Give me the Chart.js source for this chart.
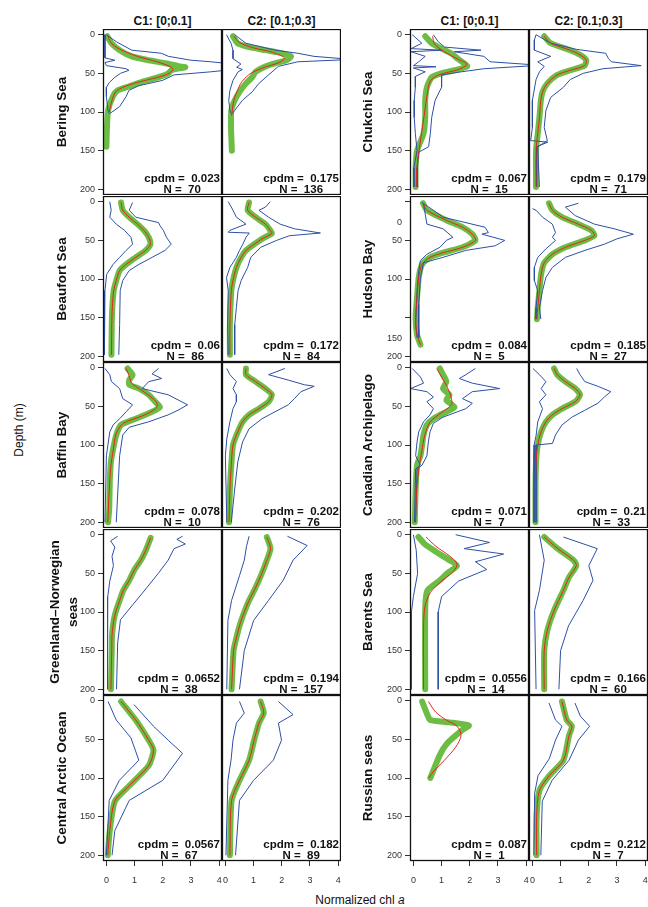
<!DOCTYPE html>
<html>
<head>
<meta charset="utf-8">
<script src="https://cdn.jsdelivr.net/npm/chart.js@4.4.1/dist/chart.umd.min.js"></script>
<style>
  body { margin: 0; background: #fff; width: 648px; height: 907px; position: relative; overflow: hidden;
         font-family: 'Liberation Sans', Arial, Helvetica, sans-serif; color: #111; }
  canvas { position: absolute; }
  .lbl { position: absolute; white-space: nowrap; transform: translate(-50%, -50%); }
  .rot { transform: translate(-50%, -50%) rotate(-90deg); text-align: center; }
  .head { font-weight: bold; font-size: 12px; }
  .region { font-weight: bold; font-size: 13.5px; line-height: 18px; }
  .axtitle { font-size: 12px; }
</style>
</head>
<body>
<script>
// Labels
const regions = ['Bering Sea', 'Beaufort Sea', 'Baffin Bay', 'Greenland–Norwegian<br>seas', 'Central Arctic Ocean',
                 'Chukchi Sea', 'Hudson Bay', 'Canadian Archipelago', 'Barents Sea', 'Russian seas'];
const colTitles = ['C1: [0;0.1]', 'C2: [0.1;0.3]'];
const cpdmC1 = ['0.023', '0.06', '0.078', '0.0652', '0.0567', '0.067', '0.084', '0.071', '0.0556', '0.087'];
const cpdmC2 = ['0.175', '0.172', '0.202', '0.194', '0.182', '0.179', '0.185', '0.21', '0.166', '0.212'];
const nC1 = [70, 86, 10, 38, 67, 15, 5, 7, 14, 1];
const nC2 = [136, 84, 76, 157, 89, 71, 27, 33, 60, 7];
const xTicks = [0, 1, 2, 3, 4];
const yTicks = [0, 50, 100, 150, 200];
// odd depth axis of the Hudson Bay panel
const hudsonTickLabels = ['', '50', '100', '', '200'];
const hudsonExtraLabels = [[27, '0'], [177, '150']];

// Profiles as [normalized chl a, depth]
// Lo/Hi = blue envelope, Obs = green circles, Fit = red curve
const beringC1Lo = [[-0.05,0],[-0.05,30],[0.3,33],[-0.05,36],[0,40],[0.7,44],[0.8,46],[0.5,50],[0.3,55],[0.1,62],[0,68],[0,80],[0.06,98],[0.1,102]];
const beringC1Hi = [[0,0],[0.35,9],[0.9,20],[1.95,24],[2.2,28],[3,33],[3.7,35],[4.5,38],[4.5,45],[3.7,48],[2.4,52],[2,59],[1.15,66],[0.8,72],[0.7,80],[0.47,93],[0.12,102]];
const beringC1Obs = [[0.03,2],[0.18,11],[0.47,20],[0.9,28],[1.5,33],[2.1,37],[2.6,41],[2.8,42],[2.3,46],[2.2,50],[1.85,55],[1.27,61],[0.8,67],[0.4,72],[0.23,80],[0.06,98],[0.02,120],[0,145]];
const beringC1Fit = [[0.05,2],[0.2,12],[0.55,20],[1.1,28],[1.8,35],[2.3,42],[2.35,46],[2.1,52],[1.5,58],[0.8,65],[0.35,73],[0.2,85],[0.1,100]];

const beringC2Lo = [[0.04,0],[0.2,11],[0.27,20],[0.27,31],[0.55,38],[0.4,42],[0.6,45],[0.45,48],[0.27,59],[0.16,72],[0.12,85],[0.16,98],[0.2,102]];
const beringC2Hi = [[0.33,0],[0.73,11],[1.76,20],[2.57,24],[3.14,28],[4.5,32],[2.57,35],[1.88,41],[1.53,52],[1.19,63],[0.95,74],[0.6,85],[0.33,98],[0.25,102]];
const beringC2Obs = [[0.27,2],[0.43,11],[0.73,15],[1.42,20],[2,24],[2.33,28],[2.16,33],[1.76,37],[1.42,41],[1.07,48],[0.95,55],[0.73,63],[0.5,74],[0.33,85],[0.21,98],[0.2,120],[0.23,150]];
const beringC2Fit = [[0.3,2],[0.5,10],[1,17],[1.6,22],[2.1,30],[1.9,36],[1.4,42],[0.9,50],[0.6,60],[0.45,70],[0.3,85],[0.22,105]];

const beaufortC1Lo = [[0.12,0],[0.17,11],[0.12,20],[0.35,29],[0.64,37],[0.87,46],[0.93,55],[0.7,63],[0.47,72],[0.24,81],[0.01,94],[-0.05,115],[-0.07,198]];
const beaufortC1Hi = [[0.93,1],[0.81,11],[1.04,20],[1.85,27],[1.9,31],[2.02,37],[2.13,46],[2.3,55],[2.08,63],[1.62,72],[1.16,81],[0.81,89],[0.58,102],[0.49,115],[0.47,159],[0.44,198]];
const beaufortC1Obs = [[0.52,1],[0.58,11],[0.81,20],[1.1,29],[1.33,37],[1.5,46],[1.56,55],[1.39,63],[1.04,72],[0.7,81],[0.47,89],[0.35,102],[0.26,115],[0.21,137],[0.19,159],[0.18,198]];

const beaufortC2Lo = [[0.1,0],[0.27,11],[0.39,20],[0.73,29],[0.16,37],[0.1,39.5],[0.85,40.5],[0.73,46],[0.62,55],[0.5,63],[0.39,72],[0.16,85],[0.04,98],[0.1,115],[0.08,159],[0.1,198]];
const beaufortC2Hi = [[1.59,0],[1.42,7],[1.19,11],[1.53,20],[1.94,29],[2.45,35],[3.37,40.5],[2.27,44],[1.82,50],[1.25,59],[0.9,72],[0.79,85],[0.56,102],[0.45,115],[0.39,137],[0.33,159],[0.33,198]];
const beaufortC2Obs = [[0.84,1],[0.79,11],[1.07,20],[1.42,29],[1.59,37],[1.65,41],[1.3,48],[1.02,55],[0.73,63],[0.56,72],[0.39,85],[0.27,102],[0.21,115],[0.16,159],[0.16,198]];

const baffinC1Lo = [[-0.05,1],[0.12,9],[0.18,18],[0.47,27],[0.58,40],[0.93,48],[0.7,57],[0.47,66],[0.24,74],[0.12,83],[0,114],[-0.05,200]];
const baffinC1Hi = [[1.85,1],[1.62,8],[1.96,14],[1.5,18],[1.27,27],[2.19,35],[2.88,48],[2.54,55],[2.19,61],[1.5,70],[0.81,77],[0.58,87],[0.47,114],[0.41,157],[0.35,200]];
const baffinC1Obs = [[0.75,1],[0.93,9],[0.81,16],[0.81,22],[1.16,27],[1.5,35],[1.73,44],[1.9,51],[1.62,57],[1.04,66],[0.52,74],[0.35,87],[0.24,105],[0.16,122],[0.12,148],[0.1,183],[0.06,200]];
const baffinC1Fit = [[0.7,1],[0.8,10],[0.9,20],[1.2,28],[1.55,37],[1.8,46],[1.75,53],[1.3,62],[0.6,72],[0.35,85],[0.25,105],[0.15,130],[0.1,160],[0.05,200]];

const baffinC2Lo = [[0.05,1],[0.16,9],[0.39,18],[0.27,27],[0.39,35],[0.39,44],[0.27,53],[0.16,70],[0.05,92],[0,114],[0.05,200]];
const baffinC2Hi = [[2.11,1],[1.53,9],[2.23,16],[2.8,22],[3.15,24],[2.68,31],[2.45,40],[2.23,48],[1.76,57],[1.3,66],[0.84,79],[0.61,96],[0.44,122],[0.33,157],[0.21,200]];
const baffinC2Obs = [[0.73,1],[0.73,9],[1.07,18],[1.42,27],[1.65,35],[1.53,44],[1.19,53],[0.84,61],[0.61,70],[0.44,83],[0.27,100],[0.21,126],[0.16,157],[0.13,200]];

const greenlandC1Lo = [[0.4,2],[0.15,8],[0.3,16],[0.2,28],[0.25,40],[0.12,60],[0.05,80],[0.03,120],[0.05,200]];
const greenlandC1Hi = [[2.7,2],[2.5,6],[2.8,12],[2.4,18],[2.19,33],[1.84,50],[1.4,70],[0.95,90],[0.5,110],[0.4,140],[0.36,200]];
const greenlandC1Obs = [[1.57,4],[1.4,20],[1.22,33],[1,45],[0.81,59],[0.6,72],[0.47,85],[0.33,100],[0.26,111],[0.2,130],[0.19,150],[0.16,200]];

const greenlandC2Lo = [[0.84,2],[0.75,15],[0.67,33],[0.5,53],[0.22,85],[0.09,111],[0.05,200]];
const greenlandC2Hi = [[2.2,2],[2.9,14],[2.4,33],[2.05,59],[1.53,85],[1,111],[0.67,150],[0.5,200]];
const greenlandC2Obs = [[1.47,3],[1.6,18],[1.45,35],[1.26,53],[1.05,70],[0.84,85],[0.67,100],[0.5,118],[0.38,135],[0.29,150],[0.22,200]];

const centralC1Lo = [[0.06,1],[0.35,25],[0.87,48],[1.15,77],[0.46,103],[0.1,129],[0,200]];
const centralC1Hi = [[0.98,5],[1.67,33],[2.19,51],[2.7,68],[2,103],[0.81,129],[0.3,168],[0.2,200]];
const centralC1Obs = [[0.52,1],[1.04,25],[1.5,51],[1.67,64],[1.5,84],[0.81,110],[0.3,130],[0.12,168],[0.05,200]];

const centralC2Lo = [[0.5,1],[0.67,16],[0.39,29],[0.27,51],[0.2,77],[0.09,103],[0.02,200]];
const centralC2Hi = [[1.88,1],[2.4,18],[1.88,29],[1.99,51],[1.7,77],[1,103],[0.5,129],[0.36,200]];
const centralC2Obs = [[1.25,1],[1.36,16],[1.19,29],[1.02,51],[0.84,77],[0.5,103],[0.22,129],[0.16,200]];

const chukchiC1Lo = [[-0.04,0],[0.3,11],[-0.08,18],[1,20],[-0.08,22],[0.42,28],[0.19,35],[0,40],[0.8,41.5],[0,43],[0.42,48],[0.07,54],[0.07,68],[0.03,85],[0.03,107],[0.07,128],[0.13,150],[0.02,172],[0.02,197]];
const chukchiC1Hi = [[0.71,0],[0.88,9],[1.11,16],[2.4,20],[1.45,22],[2.5,28],[2.72,35],[4.5,39.5],[2.5,44],[1.7,48],[1,52],[1,68],[0.77,85],[0.65,107],[0.6,128],[0.54,145],[0.19,152],[0.13,172],[0.13,197]];
const chukchiC1Obs = [[0.42,2],[0.65,11],[1.11,20],[1.34,24],[1.57,31],[1.8,37],[1.91,41],[1.46,46],[0.99,50],[0.65,55],[0.48,68],[0.42,85],[0.42,107],[0.36,128],[0.13,150],[0.08,172],[0.08,197]];
const chukchiC1Fit = [[0.68,2],[0.75,12],[1.1,22],[1.6,32],[1.9,38],[1.6,45],[0.9,52],[0.6,60],[0.5,75],[0.4,100],[0.3,125],[0.2,150],[0.12,175],[0.1,197]];

const chukchiC2Lo = [[0.13,0],[0.07,7],[0.07,20],[0.65,28],[0.19,35],[0.42,41],[0.25,48],[0.13,58],[0,85],[0,120],[-0.06,137],[0.55,139],[0.15,145],[0.15,197]];
const chukchiC2Hi = [[0.13,0],[0.65,11],[1.57,19],[2.6,24],[2.7,31],[2.8,35],[3.86,40],[2.5,44],[1.8,50],[1.34,58],[1.1,68],[0.65,81],[0.48,98],[0.42,120],[0.53,137],[0.19,145],[0.25,197]];
const chukchiC2Obs = [[0.42,2],[0.65,11],[1.34,20],[1.69,26],[1.91,33],[1.85,40],[1.34,46],[0.88,52],[0.53,63],[0.36,74],[0.3,85],[0.25,107],[0.19,128],[0.13,150],[0.13,197]];

const hudsonC1Lo = [[0.36,3],[0.42,16],[0.48,29],[1.05,35],[1.4,46],[1.17,50],[0.94,59],[0.48,68],[0.25,76],[0.19,90],[0.13,115],[0.08,159],[0.13,176]];
const hudsonC1Hi = [[0.3,1],[0.71,11],[1.05,20],[2.54,33],[2.66,40],[2.43,42],[3.24,50],[2.9,57],[1.86,63],[1.05,72],[0.36,79],[0.25,98],[0.19,133],[0.19,176]];
const hudsonC1Obs = [[0.34,2],[0.48,11],[1.17,24],[1.74,33],[2.09,42],[2.2,50],[1.74,59],[1.05,66],[0.59,72],[0.31,81],[0.19,98],[0.13,124],[0.08,150],[0.13,172],[0.25,185]];

const hudsonC2Lo = [[0,9],[0.13,11],[0.36,20],[0.71,29],[0.82,40],[0.71,46],[0.82,50],[0.48,61],[0.19,72],[0.07,85],[0.07,102],[0.19,115],[0.13,137],[0.13,152]];
const hudsonC2Hi = [[1.63,2],[1.17,7],[1.52,18],[2.2,29],[2.9,35],[3.58,42],[3,48],[2.55,55],[1.86,63],[1.17,72],[0.71,85],[0.48,98],[0.36,115],[0.25,137],[0.3,152]];
const hudsonC2Obs = [[0.59,2],[0.71,11],[1.05,20],[1.63,29],[2.09,37],[2.2,44],[1.86,50],[1.17,59],[0.71,68],[0.42,79],[0.31,94],[0.25,115],[0.19,137],[0.16,152]];

const canArchC1Lo = [[-0.04,1],[0.25,12],[0.36,20],[-0.1,27],[0.48,31],[0.71,38],[0.48,44],[0.71,53],[0.59,61],[0.36,70],[0.19,83],[0.13,96],[0.08,114],[0.25,126],[0.08,131],[0.04,200]];
const canArchC1Hi = [[2.2,1],[1.86,9],[1.63,14],[2.09,20],[3.06,27],[2.09,31],[1.74,40],[2.09,46],[1.86,53],[1.05,64],[0.71,72],[0.59,83],[0.53,96],[0.48,114],[0.31,126],[0.13,131],[0.08,200]];
const canArchC1Obs = [[0.94,1],[1.05,9],[1.17,18],[1.05,27],[1.28,35],[1.17,42],[1.46,51],[1.17,57],[0.71,66],[0.48,74],[0.36,87],[0.31,100],[0.25,114],[0.13,126],[0.08,157],[0.05,200]];
const canArchC1Fit = [[0.83,1],[1,12],[1.2,25],[1.35,40],[1.35,48],[1,58],[0.6,70],[0.4,88],[0.3,108],[0.2,130],[0.12,157],[0.07,200]];

const canArchC2Lo = [[0.02,1],[0.25,9],[0.48,18],[0.31,27],[0.48,35],[0.25,44],[0.36,53],[0.19,70],[0.13,88],[0.06,100],[0.06,200]];
const canArchC2Hi = [[1.57,1],[1.69,9],[1.86,18],[2.32,24],[2.78,31],[2.55,38],[2.32,46],[1.86,55],[1.4,64],[1.05,74],[0.82,87],[0.71,98],[0.13,100],[0.13,200]];
const canArchC2Obs = [[0.77,1],[0.88,9],[1.17,18],[1.52,27],[1.69,35],[1.52,44],[1.05,53],[0.71,61],[0.48,70],[0.31,83],[0.19,100],[0.13,122],[0.11,157],[0.11,200]];

const barentsC1Lo = [[0,0],[0.1,20],[0.15,50],[0,80],[-0.07,100],[-0.07,200]];
const barentsC1Hi = [[1.5,0],[2.7,10],[1.8,18],[3.2,25],[2.2,35],[2.6,45],[1.6,60],[1,80],[0.88,100],[0.88,200]];
const barentsC1Obs = [[0.18,3],[0.4,12],[0.8,22],[1.28,33],[1.55,40],[1.2,50],[0.94,59],[0.5,72],[0.42,95],[0.42,200]];
const barentsC1Fit = [[0.45,3],[0.8,15],[1.3,28],[1.55,38],[1.4,48],[1,60],[0.6,75],[0.4,95],[0.36,130],[0.36,200]];

const barentsC2Lo = [[0.25,0],[0.42,33],[0.25,72],[0.08,98],[0.13,200]];
const barentsC2Hi = [[1.1,3],[2.3,18],[2,40],[2.15,59],[1.8,85],[1.28,118],[1,150],[0.94,200]];
const barentsC2Obs = [[0.42,3],[0.9,18],[1.46,33],[1.56,40],[1.3,55],[1.1,72],[0.77,98],[0.53,124],[0.42,150],[0.42,200]];

const russianC1Obs = [[0.31,1],[0.53,21],[0.6,25],[1.28,28],[1.97,32],[1.73,38],[1.2,55],[0.94,70],[0.6,100]];
const russianC1Fit = [[0.53,1],[0.8,15],[1.17,25],[1.55,33],[1.69,45],[1.5,60],[1.1,77],[0.7,92],[0.55,100]];

const russianC2Lo = [[0.59,3],[0.82,25],[1.05,33],[0.82,51],[0.6,75],[0.2,97],[0.08,120],[0.05,200]];
const russianC2Hi = [[1.51,3],[1.7,20],[2.03,33],[1.63,51],[1.3,77],[0.7,103],[0.35,130],[0.3,200]];
const russianC2Obs = [[1.05,1],[1.22,25],[1.4,33],[1.3,45],[1.1,77],[0.6,97],[0.25,116],[0.15,150],[0.15,200]];

// [lo, hi, obs, fit] for C1 and C2 of every region, same order as regions
const profiles = [
  [[beringC1Lo, beringC1Hi, beringC1Obs, beringC1Fit], [beringC2Lo, beringC2Hi, beringC2Obs, beringC2Fit]],
  [[beaufortC1Lo, beaufortC1Hi, beaufortC1Obs, beaufortC1Obs], [beaufortC2Lo, beaufortC2Hi, beaufortC2Obs, beaufortC2Obs]],
  [[baffinC1Lo, baffinC1Hi, baffinC1Obs, baffinC1Fit], [baffinC2Lo, baffinC2Hi, baffinC2Obs, baffinC2Obs]],
  [[greenlandC1Lo, greenlandC1Hi, greenlandC1Obs, greenlandC1Obs], [greenlandC2Lo, greenlandC2Hi, greenlandC2Obs, greenlandC2Obs]],
  [[centralC1Lo, centralC1Hi, centralC1Obs, centralC1Obs], [centralC2Lo, centralC2Hi, centralC2Obs, centralC2Obs]],
  [[chukchiC1Lo, chukchiC1Hi, chukchiC1Obs, chukchiC1Fit], [chukchiC2Lo, chukchiC2Hi, chukchiC2Obs, chukchiC2Obs]],
  [[hudsonC1Lo, hudsonC1Hi, hudsonC1Obs, hudsonC1Obs], [hudsonC2Lo, hudsonC2Hi, hudsonC2Obs, hudsonC2Obs]],
  [[canArchC1Lo, canArchC1Hi, canArchC1Obs, canArchC1Fit], [canArchC2Lo, canArchC2Hi, canArchC2Obs, canArchC2Obs]],
  [[barentsC1Lo, barentsC1Hi, barentsC1Obs, barentsC1Fit], [barentsC2Lo, barentsC2Hi, barentsC2Obs, barentsC2Obs]],
  [[[], [], russianC1Obs, russianC1Fit], [russianC2Lo, russianC2Hi, russianC2Obs, russianC2Obs]]
];

// layout
const groupLeft = [103, 410];
const rowTop = [29, 196, 362, 529, 695];
const panelW = 119, panelH = 166, axisW = 45, axisH = 32;
const FONT = "'Liberation Sans', Arial, Helvetica, sans-serif";
const BLUE = '#2d4fa6', RED = '#e4261f', GREEN = '#6dbd45';

function addLabel(html, x, y, cls) {
  const d = document.createElement('div');
  d.className = 'lbl ' + cls;
  d.style.left = x + 'px';
  d.style.top = y + 'px';
  d.innerHTML = html;
  document.body.appendChild(d);
}

const pts = arr => arr.map(p => ({ x: p[0], y: p[1] }));

function makePanel(ri, ci) {
  const g = ri < 5 ? 0 : 1, r = ri % 5;
  const left = groupLeft[g] + ci * panelW, top = rowTop[r];
  const showY = ci === 0, showX = r === 4;
  const isHudson = regions[ri] === 'Hudson Bay' && showY;
  const cv = document.createElement('canvas');
  const w = panelW + (showY ? axisW : 0), h = panelH + (showX ? axisH : 0);
  cv.width = w; cv.height = h;
  cv.style.left = (left - (showY ? axisW : 0)) + 'px';
  cv.style.top = top + 'px';
  document.body.appendChild(cv);

  const [lo, hi, obs, fit] = profiles[ri][ci];
  const cpdm = ci === 0 ? cpdmC1[ri] : cpdmC2[ri];
  const n = ci === 0 ? nC1[ri] : nC2[ri];

  const decor = {
    id: 'decor' + ri + ci,
    afterDraw(chart) {
      const ctx = chart.ctx, ca = chart.chartArea;
      ctx.save();
      ctx.strokeStyle = '#111';
      ctx.lineWidth = 1.3;
      ctx.strokeRect(ca.left + 0.5, ca.top + 0.5, ca.width - 1, ca.height - 1);
      ctx.fillStyle = '#111';
      ctx.font = 'bold 11.5px ' + FONT;
      ctx.textAlign = 'center';
      const l1 = 'cpdm =  ' + cpdm, l2 = 'N =  ' + n;
      const bw = Math.max(ctx.measureText(l1).width, ctx.measureText(l2).width);
      const cx = ca.right - 2 - bw / 2;
      ctx.fillText(l1, cx, ca.bottom - 13);
      ctx.fillText(l2, cx, ca.bottom - 2.5);
      if (isHudson) {
        const ys = chart.scales.y;
        ctx.font = '9px ' + FONT;
        ctx.fillStyle = '#333';
        ctx.textAlign = 'right';
        ctx.textBaseline = 'middle';
        hudsonExtraLabels.forEach(([d, t]) => ctx.fillText(t, ca.left - 8, ys.getPixelForValue(d)));
      }
      ctx.restore();
    }
  };

  const tickFont = { family: FONT, size: 9 };
  new Chart(cv, {
    type: 'scatter',
    data: {
      datasets: [
        { data: pts(fit), borderColor: RED, borderWidth: 1, tension: 0.3, order: 0 },
        { data: pts(lo), borderColor: BLUE, borderWidth: 1, order: 1 },
        { data: pts(hi), borderColor: BLUE, borderWidth: 1, order: 1 },
        { data: pts(obs), borderColor: GREEN, borderWidth: 6, tension: 0.2, order: 3,
          borderCapStyle: 'round', borderJoinStyle: 'round' }
      ].map(d => Object.assign({ showLine: true, pointRadius: 0, fill: false, clip: 0 }, d))
    },
    options: {
      responsive: false,
      animation: false,
      events: [],
      layout: { padding: 0 },
      plugins: { legend: { display: false }, tooltip: { enabled: false } },
      scales: {
        x: {
          type: 'linear', min: -0.12, max: 4.1, display: showX,
          afterBuildTicks: s => { s.ticks = xTicks.map(v => ({ value: v })); },
          afterFit: s => { s.height = showX ? axisH : 0; s.paddingLeft = 0; s.paddingRight = 0; },
          grid: { drawOnChartArea: false, tickLength: 5, color: '#333' },
          border: { display: false },
          ticks: { font: tickFont, color: '#333', padding: 9, maxRotation: 0 }
        },
        y: {
          type: 'linear', reverse: true, min: -7.4, max: 207.4, display: showY,
          afterBuildTicks: s => { s.ticks = yTicks.map(v => ({ value: v })); },
          afterFit: s => { s.width = showY ? axisW : 0; s.paddingTop = 0; s.paddingBottom = 0; },
          grid: { drawOnChartArea: false, tickLength: 5, color: '#333' },
          border: { display: false },
          ticks: {
            font: tickFont, color: '#333', padding: 3,
            callback: (v, i) => isHudson ? hudsonTickLabels[i] : String(v)
          }
        }
      }
    },
    plugins: [decor]
  });
}

for (let ri = 0; ri < regions.length; ri++) {
  makePanel(ri, 0);
  makePanel(ri, 1);
}

// titles and labels
groupLeft.forEach(gl => colTitles.forEach((t, ci) => addLabel(t, gl + ci * panelW + panelW / 2, 20.5, 'head')));
regions.forEach((name, ri) => {
  const g = ri < 5 ? 0 : 1, r = ri % 5;
  const x = g === 0 ? 62 : 368;
  addLabel(name, name.includes('<br>') ? x + 2 : x, rowTop[r] + panelH / 2, 'rot region');
});
addLabel('Depth (m)', 18.5, 430, 'rot axtitle');
addLabel('Normalized chl <i>a</i>', 360, 900, 'axtitle');
</script>
</body>
</html>
